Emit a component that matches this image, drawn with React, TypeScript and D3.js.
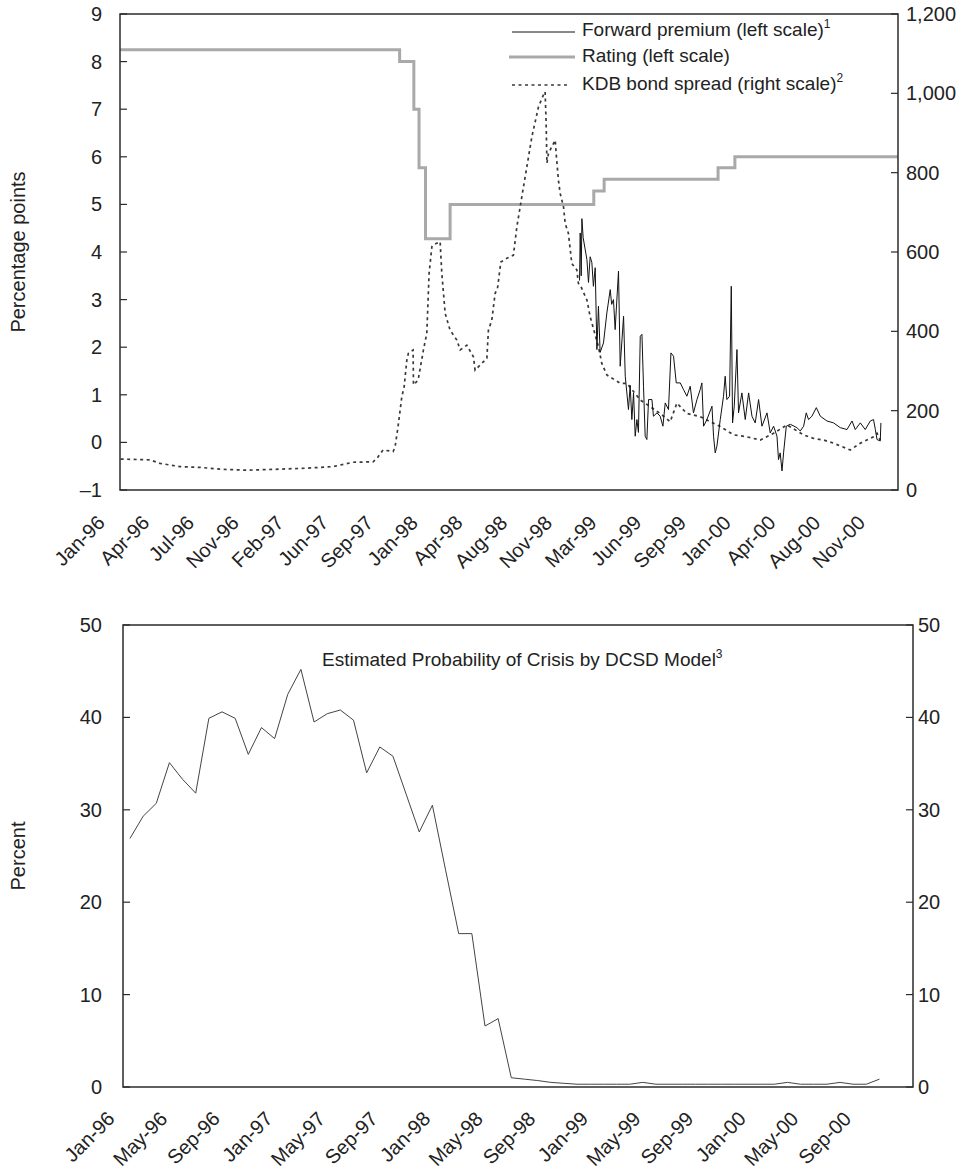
import React from 'react';
import * as d3 from 'd3';

// months since Jan-96 on the x axis
const topTickLabels = [
  'Jan-96', 'Apr-96', 'Jul-96', 'Nov-96', 'Feb-97', 'Jun-97', 'Sep-97', 'Jan-98', 'Apr-98',
  'Aug-98', 'Nov-98', 'Mar-99', 'Jun-99', 'Sep-99', 'Jan-00', 'Apr-00', 'Aug-00', 'Nov-00',
];
const topTickStep = 3.455;
const leftTicks = [-1, 0, 1, 2, 3, 4, 5, 6, 7, 8, 9];
const rightTicks = [0, 200, 400, 600, 800, 1000, 1200];

// [month, value]
const rating: [number, number][] = [
  [0, 8.25], [21.6, 8.0], [22.7, 7.0], [23.1, 5.77], [23.6, 4.28], [25.5, 5.0],
  [36.6, 5.28], [37.4, 5.53], [46.2, 5.77], [47.5, 6.0], [60.1, 6.0],
];

const kdbSpread: [number, number][] = [
  [0.05, 78], [2.32, 76], [3.09, 67], [4.64, 59], [6.18, 57], [7.96, 52], [9.81, 50],
  [11.82, 52], [14.45, 55], [16.46, 59], [18.0, 70], [19.55, 71], [19.86, 80], [20.32, 101],
  [21.1, 97], [21.25, 109], [21.48, 160], [21.77, 235], [21.95, 260], [22.16, 328],
  [22.28, 345], [22.64, 353], [22.67, 265], [23.03, 277], [23.44, 353], [23.7, 395],
  [23.88, 547], [24.09, 613], [24.21, 618], [24.73, 626], [24.86, 546], [25.12, 445],
  [25.5, 403], [26.02, 378], [26.28, 353], [26.79, 365], [27.3, 336], [27.43, 302],
  [27.82, 315], [28.34, 332], [28.46, 403], [28.72, 428], [28.98, 496], [29.16, 508],
  [29.42, 575], [29.88, 584], [30.39, 592], [30.66, 664], [31.04, 739], [31.43, 815],
  [31.82, 891], [32.33, 966], [32.71, 996], [32.84, 1004], [32.92, 924], [32.98, 824],
  [33.1, 849], [33.62, 882], [33.69, 849], [33.87, 781], [34.0, 748], [34.26, 714],
  [34.39, 672], [34.64, 647], [34.9, 571], [35.29, 555], [35.41, 521], [35.55, 517],
  [36.07, 479], [36.32, 437], [36.96, 361], [37.22, 319], [37.61, 290], [38.64, 269],
  [39.16, 269], [40.19, 227], [40.96, 210], [41.73, 193], [42.5, 172], [43.02, 219],
  [43.79, 193], [44.82, 185], [45.6, 172], [46.37, 160], [47.4, 139], [48.43, 134],
  [49.46, 126], [50.49, 143], [51.52, 164], [52.81, 139], [53.58, 130], [54.35, 126],
  [55.12, 118], [56.41, 101], [57.19, 118], [58.21, 134], [58.48, 143], [58.73, 126],
];

const fwdPremium: [number, number][] = [
  [35.5, 3.4], [35.55, 4.4], [35.63, 3.5], [35.68, 4.7], [35.78, 4.3], [36.07, 3.84],
  [36.19, 3.36], [36.32, 3.9], [36.45, 3.78], [36.57, 3.28], [36.71, 3.67], [36.84, 1.95],
  [36.96, 2.86], [37.09, 1.89], [37.35, 2.09], [37.61, 2.72], [37.87, 3.21], [37.98, 2.9],
  [38.12, 3.0], [38.25, 2.37], [38.51, 3.6], [38.64, 1.6], [38.9, 2.65], [39.03, 1.39],
  [39.28, 0.69], [39.41, 1.2], [39.54, 0.48], [39.67, 1.04], [39.8, 0.13], [39.93, 0.48],
  [40.05, 0.21], [40.19, 2.23], [40.32, 2.27], [40.44, 1.18], [40.57, 0.13], [40.7, 0.06],
  [40.83, 0.9], [41.09, 0.9], [41.21, 0.55], [41.48, 0.62], [41.73, 0.55], [41.94, 0.34],
  [42.12, 0.83], [42.37, 0.69], [42.56, 1.88], [42.76, 1.81], [42.97, 1.25], [43.28, 1.25],
  [43.53, 1.11], [43.79, 0.97], [44.05, 1.18], [44.3, 0.62], [44.57, 0.9], [44.82, 1.11],
  [44.95, 1.25], [45.08, 0.34], [45.34, 0.48], [45.73, 0.76], [45.85, 0.13], [45.98, -0.22],
  [46.11, -0.08], [46.37, 0.48], [46.62, 0.97], [46.75, 1.39], [46.88, 0.9], [47.09, 0.97],
  [47.22, 3.28], [47.32, 0.41], [47.45, 0.76], [47.66, 1.95], [47.78, 0.62], [48.04, 1.04],
  [48.3, 0.48], [48.56, 1.04], [48.82, 0.55], [49.07, 0.41], [49.33, 0.9], [49.59, 0.34],
  [49.98, 0.62], [50.23, 0.2], [50.49, 0.34], [50.75, 0.13], [50.87, -0.36], [51.0, -0.22],
  [51.14, -0.6], [51.26, -0.22], [51.47, 0.34], [51.78, 0.38], [52.29, 0.31], [52.55, 0.24],
  [52.81, 0.34], [53.01, 0.62], [53.19, 0.48], [53.45, 0.55], [53.79, 0.73], [54.1, 0.55],
  [54.61, 0.45], [55.12, 0.41], [55.64, 0.31], [56.16, 0.27], [56.55, 0.45], [56.8, 0.27],
  [57.19, 0.41], [57.57, 0.27], [57.96, 0.45], [58.21, 0.48], [58.35, 0.27], [58.48, 0.06],
  [58.73, 0.03], [58.78, 0.41],
];

const bottomTickLabels = [
  'Jan-96', 'May-96', 'Sep-96', 'Jan-97', 'May-97', 'Sep-97', 'Jan-98', 'May-98',
  'Sep-98', 'Jan-99', 'May-99', 'Sep-99', 'Jan-00', 'May-00', 'Sep-00',
];
const bottomTicks = [0, 10, 20, 30, 40, 50];

// monthly, Jan-96 .. Oct-00
const crisisProb = [
  26.9, 29.3, 30.7, 35.1, 33.3, 31.8, 39.9, 40.6, 39.9, 36.0,
  38.9, 37.7, 42.5, 45.2, 39.5, 40.4, 40.8, 39.7, 34.0, 36.8,
  35.8, 31.7, 27.6, 30.5, 23.5, 16.6, 16.6, 6.6, 7.4, 1.0,
  0.85, 0.7, 0.5, 0.4, 0.3, 0.3, 0.3, 0.3, 0.3, 0.5,
  0.3, 0.3, 0.3, 0.3, 0.3, 0.3, 0.3, 0.3, 0.3, 0.3,
  0.5, 0.3, 0.3, 0.3, 0.5, 0.3, 0.3, 0.85,
];

const font = '"Liberation Sans", Arial, Helvetica, sans-serif';
const fs = 20;
const legendFs = 19;
const axisColor = '#2b2b2b';

export default function App() {
  // top panel
  const t = { left: 120, right: 898, top: 14, bottom: 490 };
  const x1 = d3.scaleLinear().domain([0, 60.1]).range([t.left, t.right]);
  const yL = d3.scaleLinear().domain([-1, 9]).range([t.bottom, t.top]);
  const yR = d3.scaleLinear().domain([0, 1200]).range([t.bottom, t.top]);

  const ratingLine = d3.line<[number, number]>().x(d => x1(d[0])).y(d => yL(d[1])).curve(d3.curveStepAfter);
  const leftLine = d3.line<[number, number]>().x(d => x1(d[0])).y(d => yL(d[1]));
  const rightLine = d3.line<[number, number]>().x(d => x1(d[0])).y(d => yR(d[1]));

  // bottom panel
  const b = { left: 123, right: 913, top: 625, bottom: 1087 };
  const x2 = d3.scaleLinear().domain([-0.53, 59.55]).range([b.left, b.right]);
  const y2 = d3.scaleLinear().domain([0, 50]).range([b.bottom, b.top]);
  const probLine = d3.line<number>().x((_, i) => x2(i)).y(d => y2(d));

  const fmt = d3.format(',');

  return (
    <svg width={980} height={1171} style={{ position: 'absolute', left: 0, top: 0, background: '#fff' }}
      fontFamily={font} fontSize={fs} fill="#222">
      {/* ---- top chart ---- */}
      <path d={ratingLine(rating) || ''} fill="none" stroke="#a9a9a9" strokeWidth={3} />
      <path d={rightLine(kdbSpread) || ''} fill="none" stroke="#3a3a3a" strokeWidth={1.7} strokeDasharray="3,3.5" />
      <path d={leftLine(fwdPremium) || ''} fill="none" stroke="#111" strokeWidth={1} />
      <rect x={t.left} y={t.top} width={t.right - t.left} height={t.bottom - t.top}
        fill="none" stroke={axisColor} strokeWidth={1.5} />
      {leftTicks.map(v => (
        <g key={'l' + v}>
          <line x1={t.left} x2={t.left + 7} y1={yL(v)} y2={yL(v)} stroke={axisColor} strokeWidth={1.2} />
          <text x={102} y={yL(v)} dy="0.35em" textAnchor="end">{v < 0 ? '\u2013' + Math.abs(v) : v}</text>
        </g>
      ))}
      {rightTicks.map(v => (
        <g key={'r' + v}>
          <line x1={t.right - 7} x2={t.right} y1={yR(v)} y2={yR(v)} stroke={axisColor} strokeWidth={1.2} />
          <text x={906} y={yR(v)} dy="0.35em" textAnchor="start">{fmt(v)}</text>
        </g>
      ))}
      {topTickLabels.map((lab, i) => {
        const px = x1(i * topTickStep) - 14;
        const py = t.bottom + 34;
        return (
          <text key={lab} x={px} y={py} textAnchor="end" transform={`rotate(-45,${px},${py})`}>{lab}</text>
        );
      })}
      <text transform={`translate(25,${(t.top + t.bottom) / 2}) rotate(-90)`} textAnchor="middle">Percentage points</text>

      {/* legend */}
      <g fontSize={legendFs}>
        <line x1={512} x2={575} y1={32} y2={32} stroke="#111" strokeWidth={1} />
        <text x={582} y={36}>Forward premium (left scale)<tspan fontSize={12} dy={-8}>1</tspan></text>
        <line x1={509} x2={575} y1={57} y2={57} stroke="#a9a9a9" strokeWidth={3} />
        <text x={582} y={62}>Rating (left scale)</text>
        <line x1={512} x2={569} y1={85} y2={85} stroke="#3a3a3a" strokeWidth={1.7} strokeDasharray="3,3.5" />
        <text x={582} y={90}>KDB bond spread (right scale)<tspan fontSize={12} dy={-8}>2</tspan></text>
      </g>

      {/* ---- bottom chart ---- */}
      <path d={probLine(crisisProb) || ''} fill="none" stroke="#444" strokeWidth={1} />
      <rect x={b.left} y={b.top} width={b.right - b.left} height={b.bottom - b.top}
        fill="none" stroke={axisColor} strokeWidth={1.5} />
      {bottomTicks.map(v => (
        <g key={'b' + v}>
          <line x1={b.left} x2={b.left + 7} y1={y2(v)} y2={y2(v)} stroke={axisColor} strokeWidth={1.2} />
          <line x1={b.right - 7} x2={b.right} y1={y2(v)} y2={y2(v)} stroke={axisColor} strokeWidth={1.2} />
          <text x={102} y={y2(v)} dy="0.35em" textAnchor="end">{v}</text>
          <text x={918} y={y2(v)} dy="0.35em" textAnchor="start">{v}</text>
        </g>
      ))}
      {bottomTickLabels.map((lab, i) => {
        const px = x2(i * 4) - 14;
        const py = b.bottom + 33;
        return (
          <text key={lab + i} x={px} y={py} textAnchor="end" transform={`rotate(-45,${px},${py})`}>{lab}</text>
        );
      })}
      <text transform={`translate(25,${(b.top + b.bottom) / 2}) rotate(-90)`} textAnchor="middle">Percent</text>
      <text x={322} y={666} fontSize={legendFs}>Estimated Probability of Crisis by DCSD Model<tspan fontSize={12} dy={-8}>3</tspan></text>
    </svg>
  );
}
